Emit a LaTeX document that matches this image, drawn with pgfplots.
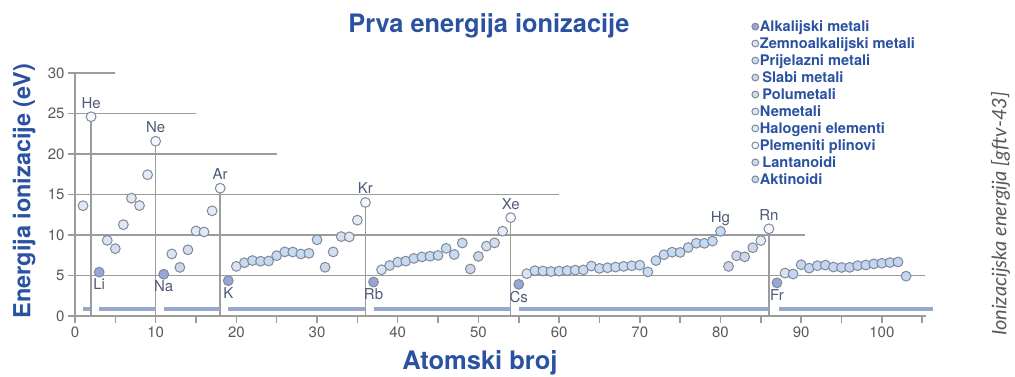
\documentclass[border=0pt]{standalone}
\usepackage{pgfplots}
\pgfplotsset{compat=1.18}
\usepackage{fontspec}
\setmainfont{TeX Gyre Heros}
\newfontfamily\sidefont{Lato}
\definecolor{titleblue}{HTML}{2B52A0}
\definecolor{gridgray}{HTML}{9C9C9C}
\definecolor{ticklab}{HTML}{5A5A5A}
\definecolor{ellab}{HTML}{4E5A78}
\definecolor{mkedge}{HTML}{808A99}
\definecolor{calk}{HTML}{9AA4D6}
\definecolor{cae}{HTML}{DCE4F3}
\definecolor{ctr}{HTML}{C6DAF2}
\definecolor{cpoor}{HTML}{D0D6EA}
\definecolor{cmet}{HTML}{D6DEEE}
\definecolor{cnon}{HTML}{E2E8F3}
\definecolor{chal}{HTML}{E6ECF6}
\definecolor{cnob}{HTML}{F5F8FC}
\definecolor{clan}{HTML}{CBDCF2}
\definecolor{cact}{HTML}{C3D5F0}
\definecolor{cbar}{HTML}{97A9CB}
\begin{document}
\begin{tikzpicture}
\begin{axis}[
  x=8.07pt, y=8.1pt,
  xmin=0, xmax=105.5, ymin=0, ymax=30,
  axis lines=left,
  axis line style={-, draw=gridgray, line width=1.5pt},
  clip=false,
  xtick={0,10,...,100}, minor xtick={5,15,...,105},
  ytick={0,5,...,30},
  tick align=outside, major tick length=7pt, minor tick length=7pt,
  tick style={draw=gridgray, line width=1.5pt},
  ticklabel style={font=\fontsize{15}{15}\selectfont, text=ticklab},
  /pgf/number format/assume math mode=true,
  every axis plot/.append style={line width=1pt},
  legend style={at={(axis cs:83.5,36.9)}, anchor=north west, draw=none, fill=none,
    font=\fontsize{14.6}{14.6}\selectfont\bfseries, text=titleblue,
    nodes={inner sep=1.2pt}, row sep=2.2pt},
  legend cell align=left,
  legend image code/.code={\draw[#1, mark size=3.4pt] plot coordinates {(0.12cm,0pt)};},
]
% partial grid lines
\addplot[gridgray, line width=1.5pt, forget plot] coordinates {(0,30) (5,30)};
\addplot[gridgray, line width=1.5pt, forget plot] coordinates {(0,25) (15,25)};
\addplot[gridgray, line width=1.5pt, forget plot] coordinates {(0,20) (25,20)};
\addplot[gridgray, line width=1.5pt, forget plot] coordinates {(0,15) (60,15)};
\addplot[gridgray, line width=1.5pt, forget plot] coordinates {(0,10) (90.5,10)};
\addplot[gridgray, line width=1.5pt, forget plot] coordinates {(0,5) (105.3,5)};
% noble gas verticals
\addplot[gridgray, line width=1.5pt, forget plot] coordinates {(2,0) (2,24.59)};
\addplot[gridgray, line width=1.5pt, forget plot] coordinates {(10,0) (10,21.56)};
\addplot[gridgray, line width=1.5pt, forget plot] coordinates {(18,0) (18,15.76)};
\addplot[gridgray, line width=1.5pt, forget plot] coordinates {(36,0) (36,14.00)};
\addplot[gridgray, line width=1.5pt, forget plot] coordinates {(54,0) (54,12.13)};
\addplot[gridgray, line width=1.5pt, forget plot] coordinates {(86,0) (86,10.75)};
% period bars
\addplot[cbar, line width=3.6pt, forget plot] coordinates {(1.0,0.85) (1.85,0.85)};
\addplot[cbar, line width=3.6pt, forget plot] coordinates {(3.0,0.85) (10,0.85)};
\addplot[cbar, line width=3.6pt, forget plot] coordinates {(11,0.85) (18,0.85)};
\addplot[cbar, line width=3.6pt, forget plot] coordinates {(19,0.85) (36,0.85)};
\addplot[cbar, line width=3.6pt, forget plot] coordinates {(37,0.85) (54,0.85)};
\addplot[cbar, line width=3.6pt, forget plot] coordinates {(55,0.85) (86,0.85)};
\addplot[cbar, line width=3.6pt, forget plot] coordinates {(87.3,0.85) (106.3,0.85)};
% series
\addplot[only marks, mark=*, mark size=4.9pt, draw=mkedge, fill=calk] coordinates {
(3,5.392) (11,5.139) (19,4.341) (37,4.177) (55,3.894) (87,4.073)};
\addlegendentry{Alkalijski metali}
\addplot[only marks, mark=*, mark size=4.9pt, draw=mkedge, fill=cae] coordinates {
(4,9.323) (12,7.646) (20,6.113) (38,5.695) (56,5.212) (88,5.279)};
\addlegendentry{Zemnoalkalijski metali}
\addplot[only marks, mark=*, mark size=4.9pt, draw=mkedge, fill=ctr] coordinates {
(21,6.561) (22,6.828) (23,6.746) (24,6.767) (25,7.434) (26,7.902) (27,7.881) (28,7.640) (29,7.726) (30,9.394)
(39,6.217) (40,6.634) (41,6.759) (42,7.092) (43,7.28) (44,7.361) (45,7.459) (46,8.337) (47,7.576) (48,8.994)
(72,6.825) (73,7.550) (74,7.864) (75,7.834) (76,8.438) (77,8.967) (78,8.959) (79,9.226) (80,10.438)};
\addlegendentry{Prijelazni metali}
\addplot[only marks, mark=*, mark size=4.9pt, draw=mkedge, fill=cpoor] coordinates {
(13,5.986) (31,5.999) (49,5.786) (50,7.344) (81,6.108) (82,7.417) (83,7.286) (84,8.417)};
\addlegendentry{\,Slabi metali}
\addplot[only marks, mark=*, mark size=4.9pt, draw=mkedge, fill=cmet] coordinates {
(5,8.298) (14,8.152) (32,7.899) (33,9.789) (51,8.608) (52,9.010)};
\addlegendentry{\,Polumetali}
\addplot[only marks, mark=*, mark size=4.9pt, draw=mkedge, fill=cnon] coordinates {
(1,13.598) (6,11.260) (7,14.534) (8,13.618) (15,10.487) (16,10.360) (34,9.752)};
\addlegendentry{Nemetali}
\addplot[only marks, mark=*, mark size=4.9pt, draw=mkedge, fill=chal] coordinates {
(9,17.423) (17,12.968) (35,11.814) (53,10.451) (85,9.3)};
\addlegendentry{Halogeni elementi}
\addplot[only marks, mark=*, mark size=4.9pt, draw=mkedge, fill=cnob] coordinates {
(2,24.587) (10,21.565) (18,15.760) (36,14.000) (54,12.130) (86,10.748)};
\addlegendentry{Plemeniti plinovi}
\addplot[only marks, mark=*, mark size=4.9pt, draw=mkedge, fill=clan] coordinates {
(57,5.577) (58,5.539) (59,5.473) (60,5.525) (61,5.582) (62,5.644) (63,5.670) (64,6.150) (65,5.864)
(66,5.939) (67,6.022) (68,6.108) (69,6.184) (70,6.254) (71,5.426)};
\addlegendentry{\,Lantanoidi}
\addplot[only marks, mark=*, mark size=4.9pt, draw=mkedge, fill=cact] coordinates {
(89,5.17) (90,6.307) (91,5.89) (92,6.194) (93,6.266) (94,6.026) (95,5.974) (96,5.991) (97,6.198)
(98,6.282) (99,6.42) (100,6.50) (101,6.58) (102,6.65) (103,4.9)};
\addlegendentry{Aktinoidi}
% element labels
\tikzset{el/.style={font=\fontsize{15}{15}\selectfont, text=ellab, inner sep=0pt}}
\node[el, anchor=base] at ([yshift=8.5pt]axis cs:2,24.59) {He};
\node[el, anchor=base] at ([yshift=8.5pt]axis cs:10,21.56) {Ne};
\node[el, anchor=base] at ([yshift=8.5pt]axis cs:18,15.76) {Ar};
\node[el, anchor=base] at ([yshift=8.5pt]axis cs:36,14.00) {Kr};
\node[el, anchor=base] at ([yshift=8.5pt]axis cs:54,12.13) {Xe};
\node[el, anchor=base] at ([yshift=8.5pt]axis cs:80,10.44) {Hg};
\node[el, anchor=base] at ([yshift=8.5pt]axis cs:86,10.75) {Rn};
\node[el, anchor=north] at ([yshift=-6.5pt]axis cs:3,5.39) {Li};
\node[el, anchor=north] at ([yshift=-6.5pt]axis cs:11,5.14) {Na};
\node[el, anchor=north] at ([yshift=-6.5pt]axis cs:19,4.34) {K};
\node[el, anchor=north] at ([yshift=-6.5pt]axis cs:37,4.18) {Rb};
\node[el, anchor=north] at ([yshift=-6.5pt]axis cs:55,3.89) {Cs};
\node[el, anchor=north] at ([yshift=-6.5pt]axis cs:87,4.07) {Fr};
% titles
\node[font=\fontsize{25.4}{25.4}\selectfont\bfseries, text=titleblue] at (axis cs:51.3,35.8) {Prva energija ionizacije};
\node[font=\fontsize{25.5}{25.5}\selectfont\bfseries, text=titleblue] at (axis cs:50.2,-5.8) {Atomski broj};
\node[font=\fontsize{23.5}{23.5}\selectfont\bfseries, text=titleblue, rotate=90] at (axis cs:-6.3,15.4) {Energija ionizacije (eV)};
\node[font=\sidefont\itshape\fontsize{20}{20}\selectfont, text=black!65, rotate=90] at (axis cs:114.7,12.6) {Ionizacijska energija [gftv-43]};
\coordinate (bbl) at (axis cs:-9.29,-7.53);
\coordinate (btr) at (axis cs:116.5,39.0);
\end{axis}
\pgfresetboundingbox
\path[use as bounding box] (bbl) rectangle (btr);
\end{tikzpicture}
\end{document}
